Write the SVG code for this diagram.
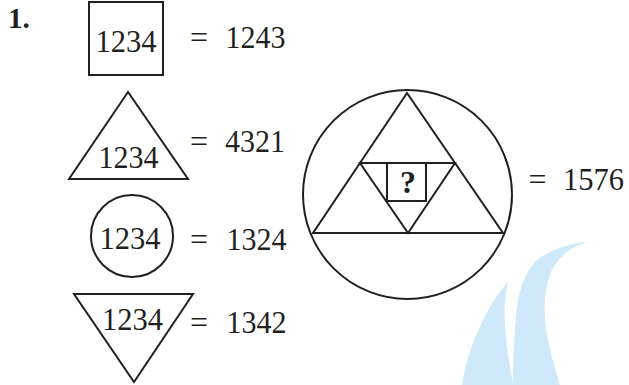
<svg xmlns="http://www.w3.org/2000/svg" width="629" height="385" viewBox="0 0 629 385">
<style>
.s{fill:none;stroke:#231f20;stroke-width:2;stroke-linejoin:miter}
.t{font-family:"Liberation Serif","Times New Roman",serif;font-size:32px;fill:#231f20}
.m{text-anchor:middle}
.b{font-weight:bold}
.wm{fill:#cfe9fa;stroke:none}
</style>
<g id="watermark">
<path class="wm" d="M588,242 C570,243 548,250 535,262 C526,272 521,285 518,300 C515,320 513,350 513,385 L560,385 C556,372 551,355 547,335 C543,312 544,290 551,272 C558,257 570,247 588,242 Z"/>
<path class="wm" d="M462,385 C465,365 472,342 482,322 C490,305 499,292 508,282 C505,295 504,310 505,325 C506,345 509,360 513,385 Z"/>
</g>
<g id="label">
<text class="t b" x="8" y="28" style="font-size:29px">1.</text>
</g>
<g id="square">
<rect class="s" x="89" y="2" width="74" height="73"/>
<text class="t m" x="126" y="52" textLength="61" lengthAdjust="spacingAndGlyphs">1234</text>
<text class="t m" x="199" y="48">=</text>
<text class="t m" x="255.5" y="48" textLength="60" lengthAdjust="spacingAndGlyphs">1243</text>
</g>
<g id="triangle">
<polygon class="s" points="128,92 69,179 188,179"/>
<text class="t m" x="128.5" y="168" textLength="60" lengthAdjust="spacingAndGlyphs">1234</text>
<text class="t m" x="199" y="152">=</text>
<text class="t m" x="255" y="152" textLength="60" lengthAdjust="spacingAndGlyphs">4321</text>
</g>
<g id="circle">
<circle class="s" cx="132" cy="236" r="41"/>
<text class="t m" x="130" y="249" textLength="61" lengthAdjust="spacingAndGlyphs">1234</text>
<text class="t m" x="199" y="250">=</text>
<text class="t m" x="256.5" y="250" textLength="60" lengthAdjust="spacingAndGlyphs">1324</text>
</g>
<g id="inverted-triangle">
<polygon class="s" points="74,294 193,294 134,382"/>
<text class="t m" x="132.5" y="330" textLength="61" lengthAdjust="spacingAndGlyphs">1234</text>
<text class="t m" x="199" y="333">=</text>
<text class="t m" x="256.5" y="333" textLength="60" lengthAdjust="spacingAndGlyphs">1342</text>
</g>
<g id="puzzle">
<circle class="s" cx="407.5" cy="194.5" r="104.5"/>
<polygon class="s" points="407,93 313,233 503,233"/>
<polygon class="s" points="360,163 455,163 408,233"/>
<rect class="s" x="387" y="163" width="39" height="38"/>
<text class="t m b" x="408" y="193" style="font-size:32px">?</text>
<text class="t m" x="537.5" y="190">=</text>
<text class="t m" x="593.5" y="190" textLength="61" lengthAdjust="spacingAndGlyphs">1576</text>
</g>
<g id="connectors"></g>
</svg>
